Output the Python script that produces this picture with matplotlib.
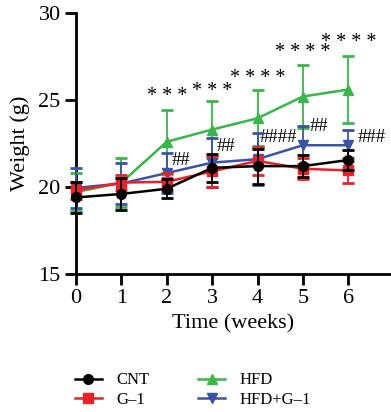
import matplotlib
matplotlib.use('Agg')
import matplotlib.pyplot as plt

plt.rcParams['font.family'] = ['Liberation Serif', 'DejaVu Serif']

weeks = [0, 1, 2, 3, 4, 5, 6]

cnt = [19.4, 19.6, 19.9, 21.1, 21.2, 21.2, 21.55]
cnt_sd = [0.9, 0.9, 0.55, 0.8, 1.0, 0.65, 0.6]

g1 = [19.8, 20.25, 20.3, 20.9, 21.5, 21.05, 20.95]
g1_sd = [0.5, 0.45, 0.5, 0.9, 0.8, 0.6, 0.7]

hfd = [19.7, 20.25, 22.6, 23.3, 23.95, 25.2, 25.6]
hfd_sd = [1.1, 1.4, 1.85, 1.65, 1.6, 1.8, 1.9]

hfdg1 = [19.95, 20.2, 20.8, 21.4, 21.6, 22.4, 22.4]
hfdg1_sd = [1.15, 1.2, 1.15, 1.4, 1.5, 1.1, 0.9]

# significance labels
star_x = [2, 3, 4, 5, 6]
star_y = [25.2, 25.5, 26.25, 27.75, 28.3]
star_txt = ['* * *', '* * *', '* * * *', '* * * *', '* * * *']

hash_x = [2.1, 3.1, 4.05, 5.15, 6.2]
hash_y = [21.55, 22.35, 22.85, 23.5, 22.85]
hash_txt = ['##', '##', '####', '##', '###']

fig = plt.figure(figsize=(3.91, 4.12), dpi=100)
ax = fig.add_axes([76/391, 138/412, 314/391, 261/412])

series = [
    ('CNT', cnt, cnt_sd, 'black', 'o', 7),
    ('G\u20131', g1, g1_sd, '#ec2027', 's', 6.5),
    ('HFD', hfd, hfd_sd, '#3ab54a', '^', 7.5),
    ('HFD+G\u20131', hfdg1, hfdg1_sd, '#3a53a4', 'v', 7.5),
]
z = {'CNT': 6, 'G\u20131': 5, 'HFD': 3, 'HFD+G\u20131': 4}
handles = []
for name, y, sd, c, m, ms in series:
    eb = ax.errorbar(weeks, y, yerr=sd, color=c, marker=m, markersize=ms,
                     linewidth=1.8, elinewidth=1.3, capsize=4.5, capthick=2,
                     ecolor=c, label=name, clip_on=False, zorder=z[name])
    handles.append(eb[0])

for x, y, t in zip(star_x, star_y, star_txt):
    ax.text(x, y, t, ha='center', va='center', fontsize=14.5)
for x, y, t in zip(hash_x, hash_y, hash_txt):
    ax.text(x, y, t, ha='left', va='center', fontsize=13.5)

ax.set_xlim(0, 6.92)
ax.set_ylim(15, 30)
ax.set_xticks(weeks)
ax.set_yticks([15, 20, 25, 30])
for s in ['top', 'right']:
    ax.spines[s].set_visible(False)
for s in ['left', 'bottom']:
    ax.spines[s].set_linewidth(2)
ax.tick_params(direction='out', length=8, width=2, labelsize=16, pad=3)
ax.set_xlabel('Time (weeks)', fontsize=16, labelpad=4)
ax.set_ylabel('Weight (g)', fontsize=16, labelpad=6)

fig.legend(handles, [s[0] for s in series], loc='center',
           bbox_to_anchor=(0.494, 0.053), ncol=2, frameon=False,
           fontsize=12, handlelength=1.6, handletextpad=0.9, columnspacing=2.9,
           labelspacing=0.2)

plt.savefig('out.png', dpi=100)
